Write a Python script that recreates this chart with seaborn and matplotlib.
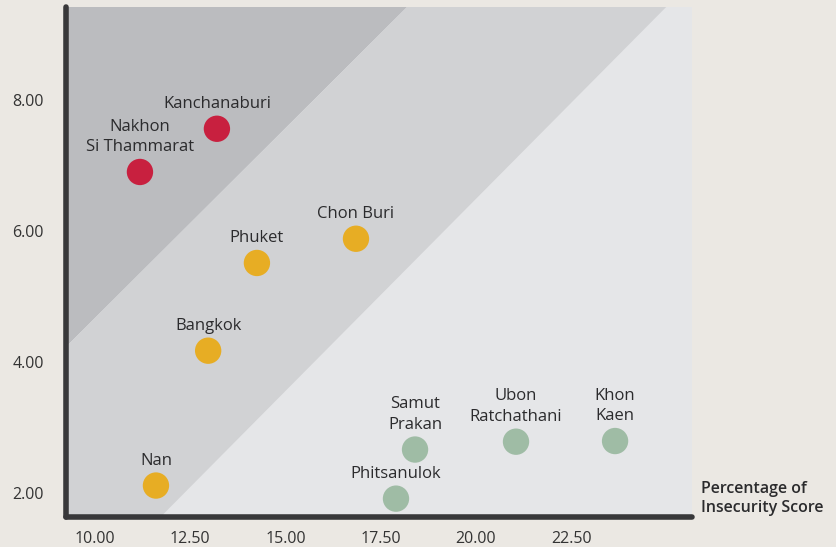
"""
Insecurity score vs. second indicator by province - scatter with shaded bands.
"""

import matplotlib
matplotlib.use("Agg")
from matplotlib import pyplot as plt
import numpy as np
import pandas as pd
import seaborn as sns

#############################################################

provinces = ["Kanchanaburi", "Nakhon\nSi Thammarat", "Chon Buri", "Phuket", "Bangkok",
             "Nan", "Samut\nPrakan", "Phitsanulok", "Ubon\nRatchathani", "Khon\nKaen"]
insecurity = [13.20, 11.18, 16.85, 14.25, 12.97, 11.60, 18.40, 17.90, 21.05, 23.65]
score_y = [7.56, 6.90, 5.88, 5.51, 4.17, 2.11, 2.66, 1.91, 2.78, 2.79]
group = ["high", "high", "mid", "mid", "mid", "mid", "low", "low", "low", "low"]

# band boundaries (y = a + b * x)
upper_band = (-1.13, 0.58)
lower_band = (-5.25, 0.587)

x_ticks = [10.0, 12.5, 15.0, 17.5, 20.0, 22.5]
y_ticks = [2.0, 4.0, 6.0, 8.0]

BG = "#ebe8e3"
palette = {"high": "#c8203f", "mid": "#e7ad24", "low": "#9fbca5"}

#############################################################

sns.set_theme(style="white")
plt.rcParams['font.family'] = ['Open Sans', 'DejaVu Sans']

df = pd.DataFrame({"province": provinces, "x": insecurity, "y": score_y, "group": group})

fig = plt.figure(figsize=(8.37, 5.47), dpi=100, facecolor=BG)
ax = fig.add_axes([0.0789, 0.0549, 0.7479, 0.9323])
ax.set_facecolor("#e5e6e8")

xlim = (9.24, 25.67)
ylim = (1.63, 9.42)
xs = np.linspace(xlim[0], xlim[1], 200)
line_hi = upper_band[0] + upper_band[1] * xs
line_lo = lower_band[0] + lower_band[1] * xs
ax.fill_between(xs, line_hi, 20, color="#bbbcbf", lw=0, zorder=0)
ax.fill_between(xs, line_lo, line_hi, color="#d1d2d4", lw=0, zorder=0)

sns.scatterplot(data=df, x="x", y="y", hue="group", palette=palette, s=360,
                edgecolor="none", legend=False, ax=ax, zorder=3)

for _, row in df.iterrows():
    ax.annotate(row["province"], (row["x"], row["y"]), xytext=(0, 12),
                textcoords="offset points", ha="center", va="bottom",
                fontsize=12, color="#2b2b2d", linespacing=1.4)

ax.set_xlim(*xlim)
ax.set_ylim(*ylim)
ax.set_xticks(x_ticks)
ax.set_yticks(y_ticks)
ax.set_xticklabels([f"{t:.2f}" for t in x_ticks])
ax.set_yticklabels([f"{t:.2f}" for t in y_ticks])
ax.tick_params(axis="both", length=0, labelsize=11.5, labelcolor="#333333")
ax.tick_params(axis="x", pad=10)
ax.tick_params(axis="y", pad=16)
ax.set_xlabel("")
ax.set_ylabel("")

for side in ["top", "right"]:
    ax.spines[side].set_visible(False)
for side in ["left", "bottom"]:
    ax.spines[side].set_color("#38383a")
    ax.spines[side].set_linewidth(4)
    ax.spines[side].set_capstyle("round")

fig.text(0.8375, 0.056, "Percentage of\nInsecurity Score", ha="left", va="bottom",
         fontsize=11.5, fontweight="semibold", color="#2b2b2d", linespacing=1.3)

fig.savefig("out.png", dpi=100, facecolor=BG)
